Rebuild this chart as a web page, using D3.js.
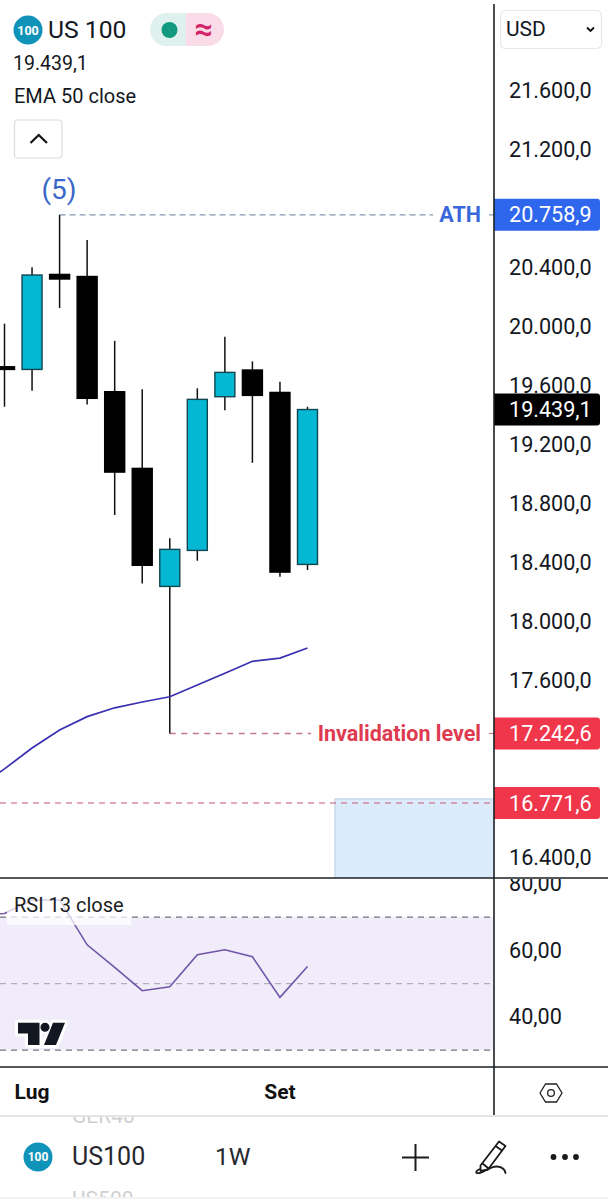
<!DOCTYPE html>
<html>
<head>
<meta charset="utf-8">
<script src="https://cdn.jsdelivr.net/npm/d3@7/dist/d3.min.js"></script>
<style>
html,body{margin:0;padding:0;background:#fff;}
svg{display:block;}
text{font-family:Roboto,sans-serif;}
</style>
</head>
<body>
<svg id="chart" width="608" height="1200"></svg>
<script>
// Weekly US 100 candles
const opens  = [19729,19711,20355,20341,19560,19040,18240,18484,19526,19707,19555,18389];
const highs  = [20021,20403,20758.9,20588,19905,19576,18566,19583,19932,19766,19627,19458];
const lows   = [19458,19566,20127,19474,18724,18260,17242.6,18414,19435,19078,18305,18351];
const closes = [19711,20351,20324,19515,19015,18383,18491,19508,19691,19535,18337,19439.1];
// Indicator series start one bar before the first visible candle
const emaValues = [16873,17003,17144,17266,17357,17417,17456,17492,17571,17651,17732,17754,17822];
const rsiValues = [70.8,71.05,75.15,75.15,61.65,54.85,47.85,49.05,58.65,60.15,58.05,45.85,55.15];
const priceTicks = [21600,21200,20400,20000,19600,19200,18800,18400,18000,17600,16400];
const rsiTicks = [80,60,40];
const rsiLevels = [70,50,30];
const monthLabels = [{i:1,label:"Lug"},{i:10,label:"Set"}];
const athLevel = 20758.9, invalidationLevel = 17242.6, targetLevel = 16771.6, lastPrice = 19439.1;
const targetBoxTop = 16798;

const C = {cyan:"#04b8d4", cyanEdge:"#124650", ink:"#000", axis:"#1b2024",
  blue:"#2f66ee", red:"#f0364a", band:"#f0ecf9", purple:"#7055a8", ema:"#3a2fb0"};

const svg = d3.select("#chart");
const locale = d3.formatLocale({decimal:",",thousands:".",grouping:[3],currency:["",""]});
const fmtPrice = locale.format(",.1f"), fmtRsi = locale.format(".2f");

const axisX = 494, priceBottom = 878, rsiBottom = 1067;
const x = d3.scaleLinear().domain([0,11]).range([4.5,307.5]);
const y = d3.scaleLinear().domain([16400,21600]).range([857.8,90.8]);
const yRsi = d3.scaleLinear().domain([40,80]).range([1016.8,883.8]);

const defs = svg.append("defs");
defs.append("clipPath").attr("id","plotPrice").append("rect").attr("width",axisX).attr("height",priceBottom);
defs.append("clipPath").attr("id","rsiAxisClip").append("rect")
  .attr("x",axisX).attr("y",priceBottom+1).attr("width",114).attr("height",rsiBottom-priceBottom-1);
defs.append("clipPath").attr("id","watchClip").append("rect")
  .attr("y",1117).attr("width",608).attr("height",80);

// Price pane: target zone and levels
const price = svg.append("g").attr("clip-path","url(#plotPrice)");
price.append("rect").attr("x",335).attr("y",y(targetBoxTop)).attr("width",axisX-335)
  .attr("height",priceBottom-y(targetBoxTop)).attr("fill","#dcebfb");
price.append("path").attr("d",`M335,${priceBottom}V${y(targetBoxTop)}H${axisX}`)
  .attr("fill","none").attr("stroke","#c6d9ea").attr("stroke-width",1.5);
price.append("line").attr("x1",0).attr("x2",axisX).attr("y1",y(targetLevel)).attr("y2",y(targetLevel))
  .attr("stroke","#c9566f").attr("stroke-width",1.2).attr("stroke-dasharray","6 5");
price.append("line").attr("x1",x(2)).attr("x2",433).attr("y1",y(athLevel)).attr("y2",y(athLevel))
  .attr("stroke","#8496ad").attr("stroke-width",1.3).attr("stroke-dasharray","6 4");
price.append("line").attr("x1",x(6)).attr("x2",311).attr("y1",y(invalidationLevel)).attr("y2",y(invalidationLevel))
  .attr("stroke","#c27a88").attr("stroke-width",1.3).attr("stroke-dasharray","6 5.5");
[[y(athLevel),"#8496ad"],[y(invalidationLevel),"#c27a88"]].forEach(([ly,col])=>
  price.append("line").attr("x1",489).attr("x2",494).attr("y1",ly).attr("y2",ly).attr("stroke",col).attr("stroke-width",1.2));

// Candles
const candles = d3.range(opens.length).map(i=>({i,o:opens[i],h:highs[i],l:lows[i],c:closes[i]}));
const candle = price.selectAll("g.candle").data(candles).join("g").attr("class","candle");
candle.append("line").attr("x1",d=>x(d.i)).attr("x2",d=>x(d.i))
  .attr("y1",d=>y(d.h)).attr("y2",d=>y(d.l)).attr("stroke","#111").attr("stroke-width",1.5);
const bodyW = 20;
candle.append("rect")
  .attr("x",d=>x(d.i)-bodyW/2).attr("width",bodyW)
  .attr("y",d=>y(Math.max(d.o,d.c))).attr("height",d=>Math.abs(y(d.o)-y(d.c)))
  .attr("fill",d=>d.c>=d.o?C.cyan:C.ink)
  .attr("stroke",d=>d.c>=d.o?C.cyanEdge:C.ink).attr("stroke-width",1.4);

// EMA 50
price.append("path").datum(emaValues)
  .attr("d",d3.line().x((d,i)=>x(i-1)).y(d=>y(d)))
  .attr("fill","none").attr("stroke",C.ema).attr("stroke-width",1.7);

// Annotations
svg.append("text").attr("x",59).attr("y",199).attr("text-anchor","middle")
  .attr("font-size",28).attr("fill","#3a68c9").text("(5)");
svg.append("text").attr("x",481).attr("y",y(athLevel)+7).attr("text-anchor","end")
  .attr("font-size",21.5).attr("font-weight",700).attr("fill","#3a68dc").text("ATH");
svg.append("text").attr("x",481).attr("y",y(invalidationLevel)+7).attr("text-anchor","end")
  .attr("font-size",21.5).attr("font-weight",700).attr("fill","#de3a50").text("Invalidation level");

// RSI pane
const rsi = svg.append("g");
rsi.append("rect").attr("x",0).attr("width",axisX)
  .attr("y",yRsi(rsiLevels[0])).attr("height",yRsi(rsiLevels[2])-yRsi(rsiLevels[0])).attr("fill",C.band);
rsi.selectAll("line.level").data(rsiLevels).join("line").attr("class","level")
  .attr("x1",0).attr("x2",axisX-4).attr("y1",d=>yRsi(d)).attr("y2",d=>yRsi(d))
  .attr("stroke",(d,i)=>i===1?"#b3aebd":"#77727f").attr("stroke-width",1.2).attr("stroke-dasharray","6 5");
rsi.append("path").datum(rsiValues)
  .attr("d",d3.line().x((d,i)=>x(i-1)).y(d=>yRsi(d)))
  .attr("fill","none").attr("stroke",C.purple).attr("stroke-width",1.6);
rsi.append("rect").attr("x",7).attr("y",893).attr("width",124).attr("height",32).attr("fill","#fff").attr("opacity",0.72);
rsi.append("text").attr("x",14).attr("y",912).attr("font-size",20).attr("fill","#1a1d22").text("RSI 13 close");

// Chart watermark
const logo = svg.append("g").attr("fill","#131722");
const logoShapes = ["M18,1022.7H39.5V1045H28V1033.5H18Z","M53,1022.7H65L56,1045H44Z"];
logo.selectAll("path.halo").data(logoShapes).join("path").attr("class","halo").attr("d",d=>d)
  .attr("fill","#fff").attr("stroke","#fff").attr("stroke-width",6).attr("stroke-linejoin","round");
logo.append("circle").attr("cx",45).attr("cy",1027.2).attr("r",7).attr("fill","#fff");
logo.selectAll("path.mark").data(logoShapes).join("path").attr("class","mark").attr("d",d=>d);
logo.append("circle").attr("cx",45).attr("cy",1027.2).attr("r",4.5);

// Price and RSI axes
const yAxis = d3.axisRight(y).tickValues(priceTicks).tickSize(0).tickPadding(0).tickFormat(fmtPrice);
const gY = svg.append("g").attr("transform","translate(509,0)").call(yAxis);
gY.select(".domain").remove();
gY.selectAll("text").attr("font-size",21.6).attr("fill","#131722").style("font-family","Roboto,sans-serif");

const rAxis = d3.axisRight(yRsi).tickValues(rsiTicks).tickSize(0).tickPadding(0).tickFormat(fmtRsi);
const gR = svg.append("g").attr("clip-path","url(#rsiAxisClip)").append("g").attr("transform","translate(509,0)").call(rAxis);
gR.select(".domain").remove();
gR.selectAll("text").attr("font-size",21.6).attr("fill","#131722").style("font-family","Roboto,sans-serif");

// Price badges
const badges = [[athLevel,C.blue],[lastPrice,"#000"],[invalidationLevel,C.red],[targetLevel,C.red]];
const badge = svg.selectAll("g.badge").data(badges).join("g").attr("class","badge")
  .attr("transform",d=>`translate(${axisX},${y(d[0])})`);
badge.append("path").attr("d","M0,-16H103a3,3 0 0 1 3,3V13a3,3 0 0 1 -3,3H0Z").attr("fill",d=>d[1]);
badge.append("text").attr("x",15).attr("y",7.6).attr("font-size",21.6).attr("fill","#fff").text(d=>fmtPrice(d[0]));

// Frame lines
svg.append("line").attr("x1",0).attr("x2",608).attr("y1",priceBottom).attr("y2",priceBottom).attr("stroke",C.axis).attr("stroke-width",1.6);
svg.append("line").attr("x1",0).attr("x2",608).attr("y1",rsiBottom).attr("y2",rsiBottom).attr("stroke",C.axis).attr("stroke-width",1.6);
svg.append("line").attr("x1",axisX).attr("x2",axisX).attr("y1",4).attr("y2",1115).attr("stroke",C.axis).attr("stroke-width",1.6);

// Time axis
svg.selectAll("text.month").data(monthLabels).join("text").attr("class","month")
  .attr("x",d=>x(d.i)).attr("y",1099).attr("text-anchor","middle")
  .attr("font-size",21).attr("font-weight",700).attr("fill","#111").text(d=>d.label);
svg.append("path").attr("d","M540,1093L545.5,1084H556.5L562,1093L556.5,1102H545.5Z").attr("fill","none").attr("stroke","#222").attr("stroke-width",1.3);
svg.append("circle").attr("cx",551).attr("cy",1093).attr("r",3.4).attr("fill","none").attr("stroke","#222").attr("stroke-width",1.3);

// Header
function badgeIcon(cx,cy,r,fs){
  svg.append("circle").attr("cx",cx).attr("cy",cy).attr("r",r).attr("fill","#0f93b9");
  svg.append("text").attr("x",cx).attr("y",cy+fs*0.36).attr("text-anchor","middle")
    .attr("font-size",fs).attr("font-weight",700).attr("fill","#fff").text("100");
}
badgeIcon(28,30,14.5,12.5);
svg.append("text").attr("x",48).attr("y",38).attr("font-size",24.7).attr("fill","#131722").text("US 100");
svg.append("path").attr("d","M186,13H166.5a16.5,16.5 0 0 0 0,33H186Z").attr("fill","#dff1ee");
svg.append("path").attr("d","M186,13H207.5a16.5,16.5 0 0 1 0,33H186Z").attr("fill","#f9dce7");
svg.append("circle").attr("cx",169.5).attr("cy",30).attr("r",8).attr("fill","#129a80");
svg.append("text").attr("x",203.5).attr("y",40).attr("text-anchor","middle").attr("font-size",32).attr("font-weight",700).attr("fill","#d3246a").text("≈");
svg.append("text").attr("x",13).attr("y",70).attr("font-size",19.5).attr("fill","#131722").text("19.439,1");
svg.append("text").attr("x",14).attr("y",103).attr("font-size",20).attr("fill","#131722").text("EMA 50 close");
svg.append("rect").attr("x",14.5).attr("y",120).attr("width",47.5).attr("height",38).attr("rx",3.5).attr("fill","#fff").attr("stroke","#dcdcdc").attr("stroke-width",1.2);
svg.append("path").attr("d","M30.5,143L38.7,135L47,143").attr("fill","none").attr("stroke","#111").attr("stroke-width",2.2);

// Currency selector
svg.append("rect").attr("x",500.5).attr("y",10.5).attr("width",101).attr("height",38).attr("rx",5).attr("fill","#fff").attr("stroke","#e8e8ea").attr("stroke-width",1.2);
svg.append("text").attr("x",506).attr("y",36).attr("font-size",21).attr("fill","#131722").text("USD");
svg.append("path").attr("d","M587,27.5L590.5,31L594,27.5").attr("fill","none").attr("stroke","#111").attr("stroke-width",1.8);

// Bottom toolbar
svg.append("line").attr("x1",0).attr("x2",608).attr("y1",1116).attr("y2",1116).attr("stroke","#dcdcdc").attr("stroke-width",1.4);
svg.append("line").attr("x1",0).attr("x2",608).attr("y1",1198).attr("y2",1198).attr("stroke","#e8e8e8").attr("stroke-width",1.2);
const watch = svg.append("g").attr("clip-path","url(#watchClip)");
watch.append("text").attr("x",72).attr("y",1123).attr("font-size",21).attr("fill","#cfcfd2").text("GER40");
watch.append("text").attr("x",72).attr("y",1206).attr("font-size",21).attr("fill","#cfcfd2").text("US500");
badgeIcon(38,1157,14.5,12);
svg.append("text").attr("x",72).attr("y",1165).attr("font-size",25).attr("fill","#26282e").text("US100");
svg.append("text").attr("x",215).attr("y",1165).attr("font-size",24.5).attr("fill","#26282e").text("1W");
svg.append("path").attr("d","M402,1157.5H429M415.5,1144V1171").attr("stroke","#1a1a1a").attr("stroke-width",2).attr("fill","none");
svg.append("path").attr("d","M480.5,1165.5L499,1141.5L505.5,1146L488,1169.5L480.5,1171ZM495.5,1146L502,1150.5M482,1163L488,1168")
  .attr("fill","none").attr("stroke","#1a1a1a").attr("stroke-width",1.8).attr("stroke-linejoin","round");
svg.append("path").attr("d","M480,1169C475,1171 475,1174 480,1173C486,1171 491,1166 497,1166.5C503,1167 505,1170 505.5,1173")
  .attr("fill","none").attr("stroke","#1a1a1a").attr("stroke-width",1.8).attr("stroke-linecap","round");
svg.selectAll("circle.dot").data([553.5,565,576]).join("circle").attr("class","dot")
  .attr("cx",d=>d).attr("cy",1157).attr("r",2.9).attr("fill","#1a1a1a");
</script>
</body>
</html>
